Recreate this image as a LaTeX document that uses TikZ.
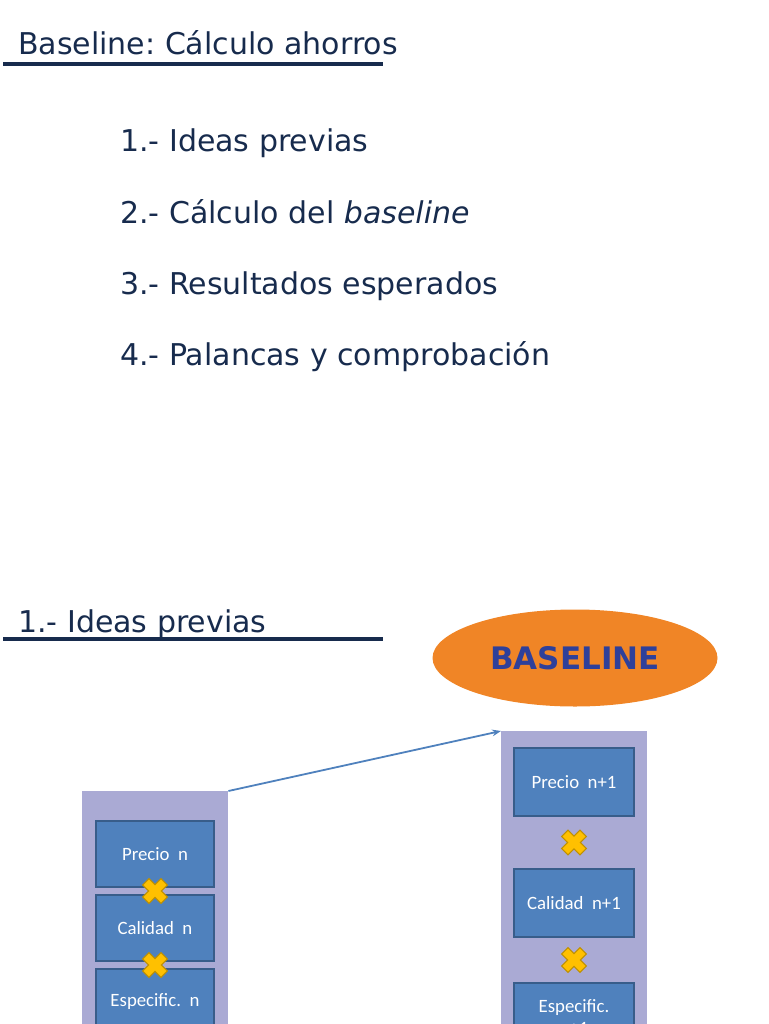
\documentclass[tikz,border=0pt]{standalone}
\usepackage{fontspec}
\setmainfont{DejaVu Sans}
\newfontfamily\boxfont{Carlito}
\usepackage{tikz}
\usetikzlibrary{calc,shapes.geometric,arrows.meta,positioning}
\frenchspacing
\definecolor{navy}{RGB}{23,43,77}
\definecolor{boxblue}{RGB}{79,129,189}
\definecolor{boxedge}{RGB}{56,93,138}
\definecolor{lavender}{RGB}{170,170,212}
\definecolor{baseorange}{RGB}{240,133,38}
\definecolor{baseblue}{RGB}{46,64,154}
\definecolor{xyellow}{RGB}{255,192,0}
\definecolor{xedge}{RGB}{191,144,0}
\tikzset{
    slide title/.style={
        anchor=base west,inner sep=0,
        text=navy,
        font=\fontsize{30}{33}\selectfont
    },
    title rule/.style={navy,line width=3.5pt},
    agenda item/.style={
        anchor=base west,inner sep=0,
        text=navy,
        font=\fontsize{30}{33}\selectfont
    },
    stack element/.style={
        draw=none,fill=lavender,
        anchor=north west,
        minimum width=146pt,minimum height=300pt
    },
    factor element/.style={
        draw=boxedge,line width=1.2pt,
        fill=boxblue,text=white,
        minimum width=118pt,minimum height=66pt,
        align=center,
        font=\boxfont\fontsize{18.8}{22}\selectfont
    },
    times/.pic={
        \filldraw[fill=xyellow,draw=xedge,line width=1pt,rotate=45]
            (-4.5,-13) -- (4.5,-13) -- (4.5,-4.5) -- (13,-4.5) -- (13,4.5)
            -- (4.5,4.5) -- (4.5,13) -- (-4.5,13) -- (-4.5,4.5) -- (-13,4.5)
            -- (-13,-4.5) -- (-4.5,-4.5) -- cycle;
    },
    >={[scale=0.8]Stealth}
}

\begin{document}
\begin{tikzpicture}[x=1pt,y=-1pt]
\useasboundingbox (0,0) rectangle (768,1024);
\clip (0,0) rectangle (768,1024);

\node[slide title] (title_a) at (18,55) {Baseline: Cálculo ahorros};
\draw[title rule] (3,64) -- (383,64);

\foreach \i/\txt in {0/{1.- Ideas previas},1/{2.- Cálculo del \textit{baseline}},2/{3.- Resultados esperados},3/{4.- Palancas y comprobación}}
    \node[agenda item] (item_\i) at (120,152+71.3*\i) {\txt};

\node[slide title] (title_b) at (18,632) {1.- Ideas previas};
\draw[title rule] (3,639) -- (383,639);

\node[ellipse,fill=baseorange,minimum width=285pt,minimum height=97pt,
      text=baseblue,font=\bfseries\fontsize{31}{34}\selectfont] (baseline) at (575,658) {BASELINE};

\node[stack element] (stack_n) at (82,791) {};
\node[stack element] (stack_m) at (501,731) {};

\foreach \i/\name in {0/{Precio~~n},1/{Calidad~~n},2/{Especific.~~n}}
    \node[factor element] (fac_n\i) at (155,854+74*\i) {\name};
\foreach \i/\j in {0/1,1/2}
    \pic at ($(fac_n\i.south)!0.5!(fac_n\j.north)$) {times};

\node[factor element,minimum width=120pt,minimum height=68pt] (fac_m0) at (574,782) {Precio~~n+1};
\node[factor element,minimum width=120pt,minimum height=68pt] (fac_m1) at (574,903) {Calidad~~n+1};
\node[factor element,minimum width=120pt,minimum height=68pt] (fac_m2) at (574,1017) {Especific.\\n+1};
\foreach \i/\j in {0/1,1/2}
    \pic at ($(fac_m\i.south)!0.5!(fac_m\j.north)$) {times};

\draw[->,boxblue,line width=1.8pt] (stack_n.north east) -- (stack_m.north west);
\end{tikzpicture}
\end{document}
